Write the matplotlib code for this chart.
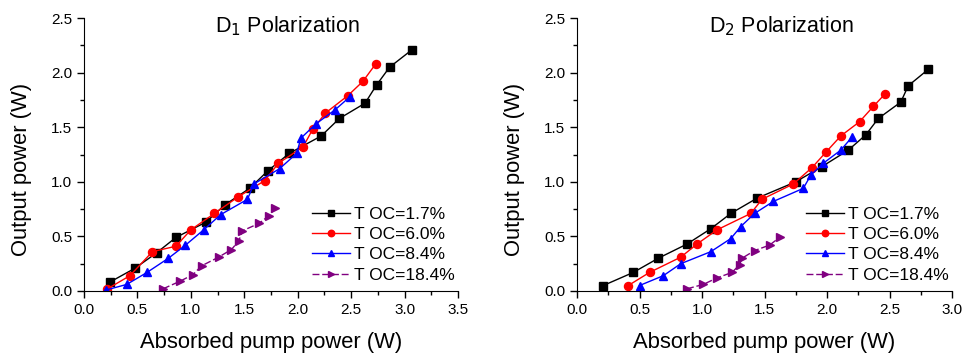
import matplotlib
matplotlib.use("Agg")
from matplotlib import pyplot as plt
from matplotlib.ticker import MultipleLocator

plt.rcParams['font.family'] = ['Liberation Sans', 'DejaVu Sans']

labels = ['T OC=1.7%', 'T OC=6.0%', 'T OC=8.4%', 'T OC=18.4%']

# D1 polarization
d1_x_17 = [0.24, 0.48, 0.68, 0.86, 1.14, 1.32, 1.55, 1.72, 1.92, 2.22, 2.39, 2.63, 2.74, 2.86, 3.07]
d1_y_17 = [0.08, 0.21, 0.35, 0.49, 0.63, 0.79, 0.94, 1.10, 1.26, 1.42, 1.58, 1.72, 1.89, 2.05, 2.21]
d1_x_60 = [0.22, 0.43, 0.64, 0.86, 1.00, 1.22, 1.44, 1.69, 1.82, 2.05, 2.14, 2.26, 2.47, 2.61, 2.73]
d1_y_60 = [0.02, 0.14, 0.36, 0.41, 0.56, 0.71, 0.86, 1.01, 1.17, 1.32, 1.48, 1.63, 1.79, 1.92, 2.08]
d1_x_84 = [0.21, 0.40, 0.59, 0.79, 0.95, 1.12, 1.28, 1.53, 1.59, 1.83, 1.99, 2.03, 2.17, 2.35, 2.49]
d1_y_84 = [0.01, 0.06, 0.17, 0.30, 0.42, 0.56, 0.70, 0.84, 0.98, 1.12, 1.26, 1.40, 1.53, 1.66, 1.78]
d1_x_184 = [0.74, 0.90, 1.02, 1.10, 1.26, 1.38, 1.45, 1.48, 1.64, 1.73, 1.79]
d1_y_184 = [0.02, 0.09, 0.15, 0.23, 0.31, 0.38, 0.46, 0.55, 0.62, 0.69, 0.76]

# D2 polarization
d2_x_17 = [0.21, 0.45, 0.65, 0.88, 1.07, 1.23, 1.44, 1.75, 1.96, 2.17, 2.31, 2.41, 2.59, 2.65, 2.81]
d2_y_17 = [0.05, 0.17, 0.30, 0.43, 0.57, 0.71, 0.85, 1.00, 1.14, 1.29, 1.43, 1.58, 1.73, 1.88, 2.03]
d2_x_60 = [0.41, 0.58, 0.83, 0.96, 1.12, 1.39, 1.48, 1.73, 1.88, 1.99, 2.11, 2.26, 2.37, 2.46]
d2_y_60 = [0.05, 0.17, 0.31, 0.43, 0.56, 0.71, 0.84, 0.98, 1.13, 1.27, 1.42, 1.55, 1.69, 1.80]
d2_x_84 = [0.50, 0.69, 0.83, 1.07, 1.23, 1.31, 1.42, 1.57, 1.81, 1.87, 1.97, 2.11, 2.20]
d2_y_84 = [0.05, 0.14, 0.25, 0.36, 0.48, 0.59, 0.71, 0.82, 0.94, 1.06, 1.17, 1.29, 1.41]
d2_x_184 = [0.88, 1.01, 1.12, 1.24, 1.30, 1.32, 1.42, 1.54, 1.62]
d2_y_184 = [0.02, 0.06, 0.12, 0.17, 0.24, 0.30, 0.37, 0.42, 0.49]

styles = [
    dict(color='black', marker='s', linestyle='-'),
    dict(color='red', marker='o', linestyle='-'),
    dict(color='blue', marker='^', linestyle='-'),
    dict(color='#800080', marker='>', linestyle=(0, (5, 2))),
]

fig = plt.figure(figsize=(9.63, 3.54), dpi=100)
ax1 = fig.add_axes([0.0872, 0.178, 0.3884, 0.771])
ax2 = fig.add_axes([0.5992, 0.178, 0.3894, 0.771])

panels = [
    (ax1, 'D$_1$ Polarization', 3.5,
     [(d1_x_17, d1_y_17), (d1_x_60, d1_y_60), (d1_x_84, d1_y_84), (d1_x_184, d1_y_184)]),
    (ax2, 'D$_2$ Polarization', 3.0,
     [(d2_x_17, d2_y_17), (d2_x_60, d2_y_60), (d2_x_84, d2_y_84), (d2_x_184, d2_y_184)]),
]

for ax, title, xmax, series in panels:
    for (x, y), st, lab in zip(series, styles, labels):
        ax.plot(x, y, label=lab, markersize=5.8, linewidth=1.0, **st)
    ax.set_xlim(0, xmax)
    ax.set_ylim(0, 2.5)
    ax.xaxis.set_major_locator(MultipleLocator(0.5))
    ax.xaxis.set_minor_locator(MultipleLocator(0.25))
    ax.yaxis.set_major_locator(MultipleLocator(0.5))
    ax.yaxis.set_minor_locator(MultipleLocator(0.25))
    ax.xaxis.set_major_formatter(matplotlib.ticker.FormatStrFormatter('%.1f'))
    ax.yaxis.set_major_formatter(matplotlib.ticker.FormatStrFormatter('%.1f'))
    ax.spines['top'].set_visible(False)
    ax.spines['right'].set_visible(False)
    ax.tick_params(which='major', direction='out', length=5, width=1, labelsize=11)
    ax.tick_params(which='minor', direction='out', length=3, width=1)
    ax.set_xlabel('Absorbed pump power (W)', fontsize=15.8, labelpad=11)
    ax.set_ylabel('Output power (W)', fontsize=15.8)
    ax.yaxis.set_label_coords(-0.138, 0.447)
    ax.text(0.545, 1.013, title, transform=ax.transAxes, ha='center', va='top', fontsize=15.5)
    ax.legend(loc='lower right', frameon=False, fontsize=12.5, handlelength=2.2,
              handletextpad=0.25, labelspacing=0.3, borderaxespad=0.0, borderpad=0.0,
              markerscale=0.8, bbox_to_anchor=(0.992, 0.03))

fig.savefig('out.png', dpi=100)
